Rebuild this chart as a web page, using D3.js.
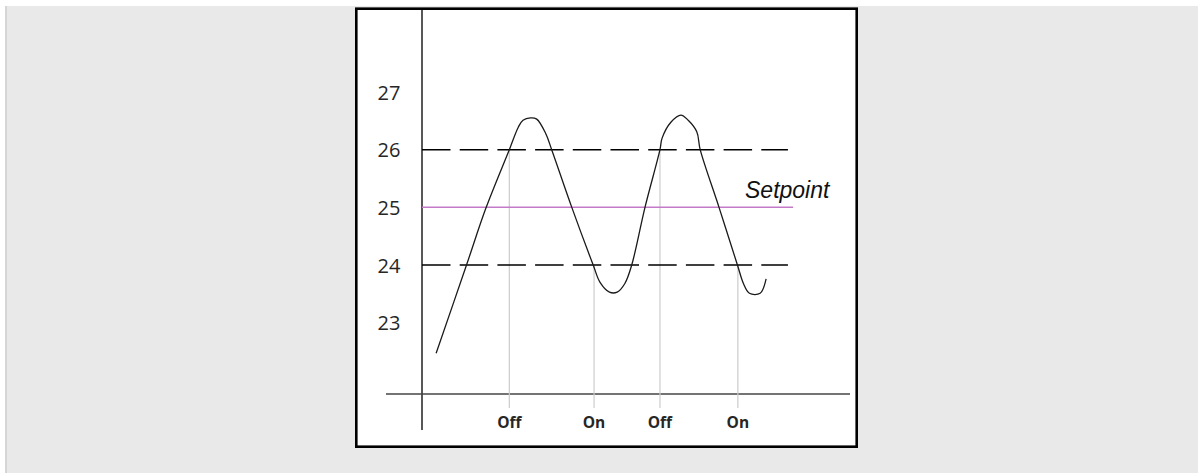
<!DOCTYPE html>
<html>
<head>
<meta charset="utf-8">
<script src="https://cdn.jsdelivr.net/npm/d3@7"></script>
<style>
  body { margin: 0; background: #fff; }
  #page { position: absolute; left: 5px; top: 6px; width: 1193px; height: 467px;
          background: #e9e9e9; border-left: 2px solid #d6d6d6; }
  svg { position: absolute; left: 0; top: 0; }
</style>
</head>
<body>
<div id="page"></div>
<svg id="chart" width="1198" height="473"></svg>
<script>
// temperature trace (time in arbitrary units, value in degrees)
var traceT = [3.3, 10.4, 15.0, 20.4, 22.5, 23.6, 25.35, 26.8, 28.9, 30.3, 35.0, 40.0, 41.6, 43.8, 45.6, 47.4,
              49.0, 52.1, 55.6, 56.1, 58.2, 60.5, 62.2, 64.2, 65.0, 69.4, 73.7, 75.1, 76.5, 79.0, 80.4];
var traceV = [22.47, 24.0, 25.0, 26.0, 26.39, 26.51, 26.55, 26.53, 26.28, 26.0, 25.0, 24.0, 23.7, 23.53, 23.53, 23.68,
              24.0, 25.0, 26.0, 26.2, 26.48, 26.6, 26.51, 26.31, 26.0, 25.0, 24.0, 23.68, 23.51, 23.51, 23.76];

var yTicks = [23, 24, 25, 26, 27];
var setpoint = 25;
var bandLimits = [26, 24];
var bandEnd = 85.5;
var setpointEnd = 86.7;

var events = ['Off', 'On', 'Off', 'On'];
var eventT = [20.4, 40.2, 55.6, 73.8];
var eventV = [26, 24, 26, 24];

var svg = d3.select('#chart');

var x = d3.scaleLinear().domain([0, 100]).range([422, 850]);
var y = d3.scaleLinear().domain([23, 27]).range([322.7, 92]);

// white panel
svg.append('rect')
  .attr('x', 356.3).attr('y', 8.7).attr('width', 500.4).attr('height', 438)
  .attr('fill', '#fff').attr('stroke', '#000').attr('stroke-width', 2.6);

// axis lines
svg.append('line')
  .attr('x1', x(0)).attr('x2', x(0)).attr('y1', 10).attr('y2', 430)
  .attr('stroke', '#111').attr('stroke-width', 1.4);
svg.append('line')
  .attr('x1', 386).attr('x2', x(100)).attr('y1', 394).attr('y2', 394)
  .attr('stroke', '#444').attr('stroke-width', 1.5);

// y tick labels
var yAxis = svg.append('g')
  .attr('transform', 'translate(389,0)')
  .call(d3.axisLeft(y).tickValues(yTicks).tickFormat(d3.format('d')).tickSize(0).tickPadding(0));
yAxis.select('.domain').remove();
yAxis.selectAll('text')
  .attr('x', 0)
  .attr('text-anchor', 'middle')
  .attr('dy', '0.36em')
  .attr('fill', '#262626')
  .style('font-family', '"Open Sans", "Noto Sans", sans-serif')
  .style('font-size', '20px');

// event markers
svg.selectAll('.evline')
  .data(events)
  .enter().append('line')
  .attr('class', 'evline')
  .attr('x1', function(d, i) { return x(eventT[i]); })
  .attr('x2', function(d, i) { return x(eventT[i]); })
  .attr('y1', function(d, i) { return y(eventV[i]); })
  .attr('y2', 408)
  .attr('stroke', '#cccccc').attr('stroke-width', 1.2);

svg.selectAll('.evlabel')
  .data(events)
  .enter().append('text')
  .attr('class', 'evlabel')
  .attr('x', function(d, i) { return x(eventT[i]); })
  .attr('y', 428)
  .attr('text-anchor', 'middle')
  .attr('fill', '#262626')
  .style('font-family', '"Open Sans", "Noto Sans", sans-serif')
  .style('font-weight', 'bold')
  .style('font-size', '15.5px')
  .text(function(d) { return d; });

// band limits
svg.selectAll('.band')
  .data(bandLimits)
  .enter().append('line')
  .attr('class', 'band')
  .attr('x1', x(0)).attr('x2', x(bandEnd))
  .attr('y1', function(d) { return y(d); })
  .attr('y2', function(d) { return y(d); })
  .attr('stroke', '#000').attr('stroke-width', 1.5)
  .attr('stroke-dasharray', '28.5 9.2');

// setpoint
svg.append('line')
  .attr('x1', x(0)).attr('x2', x(setpointEnd))
  .attr('y1', y(setpoint)).attr('y2', y(setpoint))
  .attr('stroke', '#c47ac8').attr('stroke-width', 1.5);
svg.append('text')
  .attr('x', 745).attr('y', 198)
  .attr('fill', '#111')
  .style('font-family', '"Liberation Sans", Arial, sans-serif')
  .style('font-style', 'italic')
  .style('font-size', '23px')
  .text('Setpoint');

// trace
var line = d3.line()
  .x(function(d, i) { return x(traceT[i]); })
  .y(function(d) { return y(d); })
  .curve(d3.curveCatmullRom.alpha(0.5));
svg.append('path')
  .attr('d', line(traceV))
  .attr('fill', 'none')
  .attr('stroke', '#1a1a1a').attr('stroke-width', 1.3);
</script>
</body>
</html>
